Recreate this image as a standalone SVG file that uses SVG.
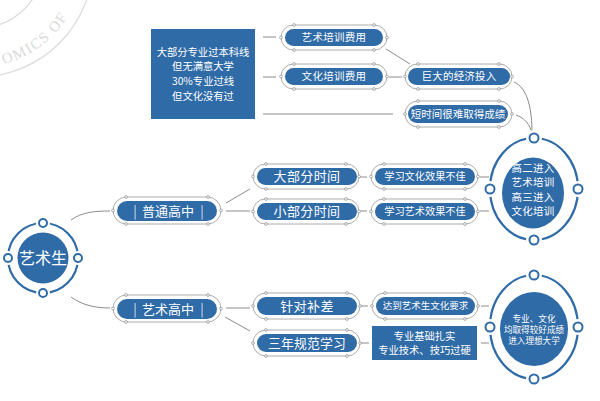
<svg xmlns="http://www.w3.org/2000/svg" width="600" height="401" viewBox="0 0 600 401">
<style>
.pill{fill:#2f6ba7}
.ol{fill:none;stroke:#a3a3a3;stroke-width:0.9}
.h{fill:#fff;stroke:#8a8a8a;stroke-width:0.7}
.t{fill:#fff;font-family:"Noto Sans CJK SC","Noto Sans",sans-serif;text-anchor:middle}
.c{fill:none;stroke:#8c8c8c;stroke-width:1}
.ring{fill:none;stroke:#2f6ba7;stroke-width:2.2}
.gap{fill:#fff}
.dot{fill:#fff;stroke:#2f6ba7;stroke-width:2}
.wm{fill:none;stroke:#dcdcdc;stroke-width:1.3}
</style>
<defs>
<path id="wmarc" d="M-40.2,65.4 A105,105 0 0 0 81.4,-56.2"/>
</defs>
<rect width="600" height="401" fill="#fff"/>
<g id="watermark">
<circle class="wm" cx="-22" cy="-38" r="115"/>
<circle class="wm" cx="-22" cy="-38" r="66"/>
<text font-family="Liberation Serif,serif" font-size="15" fill="#dadada" letter-spacing="1.5"><textPath href="#wmarc" startOffset="44">OMICS OF</textPath></text>
</g>
<g id="connectors">
<path class="c" d="M71,220 C82,212 95,211 110,211"/>
<path class="c" d="M71,297 C82,305 95,308 110,308"/>
<path class="c" d="M226,203 L250,189"/>
<path class="c" d="M226,211 L250,211"/>
<path class="c" d="M359,177 L367,177"/>
<path class="c" d="M359,211 L367,211"/>
<path class="c" d="M480,177 L489,177"/>
<path class="c" d="M480,211 L489,211"/>
<path class="c" d="M263,37 L276,37"/>
<path class="c" d="M263,77 L276,77"/>
<path class="c" d="M263,114 L393,114"/>
<path class="c" d="M386,49 L410,64"/>
<path class="c" d="M389,77 L402,77"/>
<path class="c" d="M514,82 C528,88 532,110 532,133"/>
<path class="c" d="M516,115 C525,118 530,125 532,133"/>
<path class="c" d="M226,308 L250,308"/>
<path class="c" d="M225,317 L250,331"/>
<path class="c" d="M360,306 L368,306"/>
<path class="c" d="M360,343 L369,343"/>
<path class="c" d="M481,306 L489,306"/>
<path class="c" d="M481,343 L489,343"/>
</g>
<g id="n-box1">
<rect class="pill" x="151" y="29" width="104" height="90"/>
<text class="t" font-size="10.3" x="203" y="55.7">大部分专业过本科线</text>
<text class="t" font-size="10.3" x="203" y="70.3">但无满意大学</text>
<text class="t" font-size="10.3" x="203" y="84.9">30%专业过线</text>
<text class="t" font-size="10.3" x="203" y="99.5">但文化没有过</text>
</g>
<g id="n-yishupeixun">
<rect class="ol" x="281" y="25" width="106" height="25" rx="12.5"/>
<rect class="pill" x="285" y="29" width="98" height="17" rx="8.5"/>
<circle class="h" cx="294" cy="25" r="1.4"/><circle class="h" cx="374" cy="25" r="1.4"/><circle class="h" cx="294" cy="50" r="1.4"/><circle class="h" cx="374" cy="50" r="1.4"/><circle class="h" cx="281" cy="37.5" r="1.4"/><circle class="h" cx="387" cy="37.5" r="1.4"/>
<text class="t" font-size="10.5" letter-spacing="0.3" x="334" y="41.3">艺术培训费用</text>
</g>
<g id="n-wenhuapeixun">
<rect class="ol" x="281" y="64" width="106" height="25" rx="12.5"/>
<rect class="pill" x="285" y="68" width="98" height="17" rx="8.5"/>
<circle class="h" cx="294" cy="64" r="1.4"/><circle class="h" cx="374" cy="64" r="1.4"/><circle class="h" cx="294" cy="89" r="1.4"/><circle class="h" cx="374" cy="89" r="1.4"/><circle class="h" cx="281" cy="76.5" r="1.4"/><circle class="h" cx="387" cy="76.5" r="1.4"/>
<text class="t" font-size="10.5" letter-spacing="0.3" x="334" y="80.3">文化培训费用</text>
</g>
<g id="n-jingji">
<rect class="ol" x="405" y="64" width="107" height="25" rx="12.5"/>
<rect class="pill" x="408" y="68" width="102" height="17" rx="8.5"/>
<circle class="h" cx="418" cy="64" r="1.4"/><circle class="h" cx="499" cy="64" r="1.4"/><circle class="h" cx="418" cy="89" r="1.4"/><circle class="h" cx="499" cy="89" r="1.4"/><circle class="h" cx="405" cy="76.5" r="1.4"/><circle class="h" cx="512" cy="76.5" r="1.4"/>
<text class="t" font-size="10.5" letter-spacing="0.2" x="459" y="80.3">巨大的经济投入</text>
</g>
<g id="n-duanshijian">
<rect class="ol" x="405" y="101" width="107" height="26" rx="13"/>
<rect class="pill" x="408" y="105" width="100" height="18" rx="9"/>
<circle class="h" cx="418" cy="101" r="1.4"/><circle class="h" cx="499" cy="101" r="1.4"/><circle class="h" cx="418" cy="127" r="1.4"/><circle class="h" cx="499" cy="127" r="1.4"/><circle class="h" cx="405" cy="114" r="1.4"/><circle class="h" cx="512" cy="114" r="1.4"/>
<text class="t" font-size="10.5" x="458" y="117.8">短时间很难取得成绩</text>
</g>
<g id="n-yishusheng">
<circle class="ring" cx="43" cy="258" r="35"/>
<circle class="gap" cx="43" cy="223" r="7"/><circle class="gap" cx="43" cy="293" r="7"/><circle class="gap" cx="8" cy="258" r="7"/><circle class="gap" cx="78" cy="258" r="7"/>
<circle class="dot" cx="43" cy="223" r="4"/><circle class="dot" cx="43" cy="293" r="4"/><circle class="dot" cx="8" cy="258" r="4"/><circle class="dot" cx="78" cy="258" r="4"/>
<circle class="pill" cx="43" cy="258" r="25.5"/>
<text class="t" font-size="16" x="43" y="263.8">艺术生</text>
</g>
<g id="n-putong">
<rect class="ol" x="113" y="197" width="108" height="27" rx="13.5"/>
<rect class="pill" x="117" y="201" width="100" height="20" rx="10"/>
<circle class="h" cx="126" cy="197" r="1.4"/><circle class="h" cx="208" cy="197" r="1.4"/><circle class="h" cx="126" cy="224" r="1.4"/><circle class="h" cx="208" cy="224" r="1.4"/><circle class="h" cx="113" cy="210.5" r="1.4"/><circle class="h" cx="221" cy="210.5" r="1.4"/>
<text class="t" font-size="13" x="135" y="215.5" fill-opacity="0.85">|</text>
<text class="t" font-size="13" x="168" y="215.7">普通高中</text>
<text class="t" font-size="13" x="202" y="215.5" fill-opacity="0.85">|</text>
</g>
<g id="n-dabufen">
<rect class="ol" x="253" y="164" width="106" height="25" rx="12.5"/>
<rect class="pill" x="257" y="168" width="100" height="17" rx="8.5"/>
<circle class="h" cx="266" cy="164" r="1.4"/><circle class="h" cx="346" cy="164" r="1.4"/><circle class="h" cx="266" cy="189" r="1.4"/><circle class="h" cx="346" cy="189" r="1.4"/><circle class="h" cx="253" cy="176.5" r="1.4"/><circle class="h" cx="359" cy="176.5" r="1.4"/>
<text class="t" font-size="13" letter-spacing="0.4" x="307" y="181.2">大部分时间</text>
</g>
<g id="n-xiaobufen">
<rect class="ol" x="253" y="199" width="106" height="25" rx="12.5"/>
<rect class="pill" x="257" y="203" width="100" height="17" rx="8.5"/>
<circle class="h" cx="266" cy="199" r="1.4"/><circle class="h" cx="346" cy="199" r="1.4"/><circle class="h" cx="266" cy="224" r="1.4"/><circle class="h" cx="346" cy="224" r="1.4"/><circle class="h" cx="253" cy="211.5" r="1.4"/><circle class="h" cx="359" cy="211.5" r="1.4"/>
<text class="t" font-size="13" letter-spacing="0.4" x="307" y="216.2">小部分时间</text>
</g>
<g id="n-xuexiwenhua">
<rect class="ol" x="371" y="164" width="107" height="25" rx="12.5"/>
<rect class="pill" x="375" y="168" width="100" height="17" rx="8.5"/>
<circle class="h" cx="384" cy="164" r="1.4"/><circle class="h" cx="465" cy="164" r="1.4"/><circle class="h" cx="384" cy="189" r="1.4"/><circle class="h" cx="465" cy="189" r="1.4"/><circle class="h" cx="371" cy="176.5" r="1.4"/><circle class="h" cx="478" cy="176.5" r="1.4"/>
<text class="t" font-size="10.2" x="425" y="180.2">学习文化效果不佳</text>
</g>
<g id="n-xuexiyishu">
<rect class="ol" x="371" y="199" width="107" height="25" rx="12.5"/>
<rect class="pill" x="375" y="203" width="100" height="17" rx="8.5"/>
<circle class="h" cx="384" cy="199" r="1.4"/><circle class="h" cx="465" cy="199" r="1.4"/><circle class="h" cx="384" cy="224" r="1.4"/><circle class="h" cx="465" cy="224" r="1.4"/><circle class="h" cx="371" cy="211.5" r="1.4"/><circle class="h" cx="478" cy="211.5" r="1.4"/>
<text class="t" font-size="10.2" x="425" y="215.2">学习艺术效果不佳</text>
</g>
<g id="n-gaoer">
<ellipse class="ring" cx="534" cy="189" rx="44" ry="51"/>
<circle class="gap" cx="534" cy="138" r="8"/><circle class="gap" cx="534" cy="240" r="8"/><circle class="gap" cx="490" cy="189" r="8"/><circle class="gap" cx="578" cy="189" r="8"/>
<circle class="dot" cx="534" cy="138" r="4.5"/><circle class="dot" cx="534" cy="240" r="4.5"/><circle class="dot" cx="490" cy="189" r="4.5"/><circle class="dot" cx="578" cy="189" r="4.5"/>
<ellipse class="pill" cx="533" cy="193" rx="31" ry="35.5"/>
<text class="t" font-size="10.5" letter-spacing="0.3" x="533" y="171.8">高二进入</text>
<text class="t" font-size="10.5" letter-spacing="0.3" x="533" y="186.3">艺术培训</text>
<text class="t" font-size="10.5" letter-spacing="0.3" x="533" y="200.8">高三进入</text>
<text class="t" font-size="10.5" letter-spacing="0.3" x="533" y="215.3">文化培训</text>
</g>
<g id="n-yishugaozhong">
<rect class="ol" x="113" y="295" width="108" height="27" rx="13.5"/>
<rect class="pill" x="117" y="299" width="100" height="20" rx="10"/>
<circle class="h" cx="126" cy="295" r="1.4"/><circle class="h" cx="208" cy="295" r="1.4"/><circle class="h" cx="126" cy="322" r="1.4"/><circle class="h" cx="208" cy="322" r="1.4"/><circle class="h" cx="113" cy="308.5" r="1.4"/><circle class="h" cx="221" cy="308.5" r="1.4"/>
<text class="t" font-size="13" x="135" y="313.5" fill-opacity="0.85">|</text>
<text class="t" font-size="13" x="168" y="313.7">艺术高中</text>
<text class="t" font-size="13" x="202" y="313.5" fill-opacity="0.85">|</text>
</g>
<g id="n-zhendui">
<rect class="ol" x="253" y="293" width="107" height="26" rx="13"/>
<rect class="pill" x="257" y="297" width="100" height="18" rx="9"/>
<circle class="h" cx="266" cy="293" r="1.4"/><circle class="h" cx="347" cy="293" r="1.4"/><circle class="h" cx="266" cy="319" r="1.4"/><circle class="h" cx="347" cy="319" r="1.4"/><circle class="h" cx="253" cy="306" r="1.4"/><circle class="h" cx="360" cy="306" r="1.4"/>
<text class="t" font-size="13" letter-spacing="0.4" x="307" y="310.7">针对补差</text>
</g>
<g id="n-sannian">
<rect class="ol" x="253" y="330" width="107" height="26" rx="13"/>
<rect class="pill" x="257" y="334" width="100" height="18" rx="9"/>
<circle class="h" cx="266" cy="330" r="1.4"/><circle class="h" cx="347" cy="330" r="1.4"/><circle class="h" cx="266" cy="356" r="1.4"/><circle class="h" cx="347" cy="356" r="1.4"/><circle class="h" cx="253" cy="343" r="1.4"/><circle class="h" cx="360" cy="343" r="1.4"/>
<text class="t" font-size="12.8" letter-spacing="0.2" x="307" y="347.6">三年规范学习</text>
</g>
<g id="n-dadao">
<rect class="ol" x="372" y="293" width="106" height="26" rx="13"/>
<rect class="pill" x="376" y="297" width="99" height="18" rx="9"/>
<circle class="h" cx="385" cy="293" r="1.4"/><circle class="h" cx="465" cy="293" r="1.4"/><circle class="h" cx="385" cy="319" r="1.4"/><circle class="h" cx="465" cy="319" r="1.4"/><circle class="h" cx="372" cy="306" r="1.4"/><circle class="h" cx="478" cy="306" r="1.4"/>
<text class="t" font-size="9.5" x="425.5" y="309.4">达到艺术生文化要求</text>
</g>
<g id="n-box2">
<rect class="pill" x="372" y="326" width="105" height="34"/>
<text class="t" font-size="10.3" x="424.5" y="339.6">专业基础扎实</text>
<text class="t" font-size="10.3" x="424.5" y="354">专业技术、技巧过硬</text>
</g>
<g id="n-zhuanye">
<ellipse class="ring" cx="534" cy="327" rx="44" ry="52"/>
<circle class="gap" cx="534" cy="275" r="8"/><circle class="gap" cx="534" cy="379" r="8"/><circle class="gap" cx="490" cy="327" r="8"/><circle class="gap" cx="578" cy="327" r="8"/>
<circle class="dot" cx="534" cy="275" r="4.5"/><circle class="dot" cx="534" cy="379" r="4.5"/><circle class="dot" cx="490" cy="327" r="4.5"/><circle class="dot" cx="578" cy="327" r="4.5"/>
<ellipse class="pill" cx="534" cy="329" rx="34" ry="37"/>
<text class="t" font-size="8.6" x="534" y="322">专业、文化</text>
<text class="t" font-size="8.6" x="534" y="333">均取得较好成绩</text>
<text class="t" font-size="8.6" x="534" y="344">进入理想大学</text>
</g>
</svg>
